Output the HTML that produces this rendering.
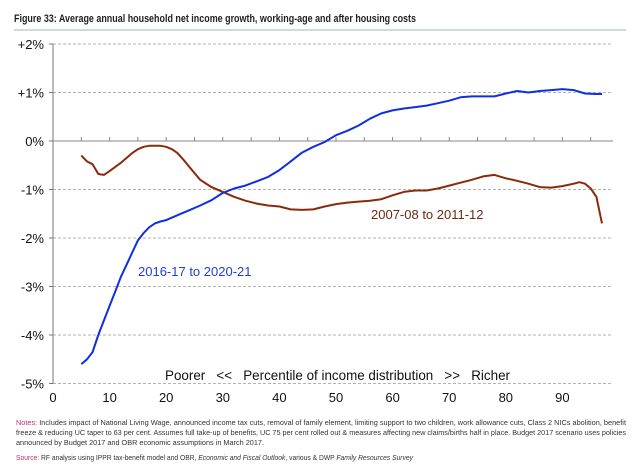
<!DOCTYPE html>
<html><head><meta charset="utf-8"><style>
html,body{margin:0;padding:0;background:#fff;}
svg{display:block;font-family:"Liberation Sans",sans-serif;}
.pre{white-space:pre;}
</style></head><body>
<svg id="chart" width="640" height="473" viewBox="0 0 640 473">
<text x="14" y="22" font-size="11" fill="#222" font-weight="bold" textLength="402" lengthAdjust="spacingAndGlyphs">Figure 33:  Average annual household net income growth, working-age and after housing costs</text>
<line x1="14" y1="30" x2="626" y2="30" stroke="#a9b3b8" stroke-width="1"/>
<g id="grid"></g><g id="axes"></g><g id="series"></g>
<text x="138" y="276" font-size="13" fill="#1f3fd0">2016-17 to 2020-21</text>
<text x="371" y="219" font-size="13" fill="#6b2a10">2007-08 to 2011-12</text>
<text class="pre" x="165" y="380" font-size="14" fill="#111" textLength="345" lengthAdjust="spacingAndGlyphs" xml:space="preserve">Poorer   &lt;&lt;   Percentile of income distribution   &gt;&gt;   Richer</text>
<g font-size="7.6" fill="#333">
<text x="16" y="425" textLength="610" lengthAdjust="spacingAndGlyphs"><tspan fill="#c03070">Notes:</tspan> Includes impact of National Living Wage, announced income tax cuts, removal of family element, limiting support to two children, work allowance cuts, Class 2 NICs abolition, benefit</text>
<text x="16" y="435" textLength="610" lengthAdjust="spacingAndGlyphs">freeze &amp; reducing UC taper to 63 per cent. Assumes full take-up of benefits, UC 75 per cent rolled out &amp; measures affecting new claims/births half in place. Budget 2017 scenario uses policies</text>
<text x="16" y="445" textLength="248" lengthAdjust="spacingAndGlyphs">announced by Budget 2017 and OBR economic assumptions in March 2017.</text>
<text x="16" y="460" textLength="397" lengthAdjust="spacingAndGlyphs"><tspan fill="#c03070">Source:</tspan> RF analysis using IPPR tax-benefit model and OBR, <tspan font-style="italic">Economic and Fiscal Outlook</tspan>, various &amp; DWP <tspan font-style="italic">Family Resources Survey</tspan></text>
</g>
</svg>
<script>
const yTicks = [2, 1, 0, -1, -2, -3, -4, -5];
const yTickLabels = ["+2%", "+1%", "0%", "-1%", "-2%", "-3%", "-4%", "-5%"];
const xTicks = [0, 10, 20, 30, 40, 50, 60, 70, 80, 90];
const bluePct = [5,6,7,8,9,10,11,12,13,14,15,16,17,18,19,20,22,24,26,28,30,32,34,36,38,40,42,44,46,48,50,52,54,56,58,60,62,64,66,68,70,72,74,76,78,80,82,84,86,88,90,92,94,96,97];
const blueVal = [-4.6,-4.5,-4.35,-4.0,-3.7,-3.4,-3.1,-2.8,-2.55,-2.3,-2.05,-1.9,-1.78,-1.7,-1.66,-1.63,-1.53,-1.43,-1.33,-1.22,-1.07,-0.98,-0.92,-0.83,-0.74,-0.6,-0.42,-0.24,-0.12,-0.02,0.12,0.21,0.32,0.46,0.57,0.63,0.67,0.70,0.73,0.78,0.83,0.9,0.92,0.92,0.92,0.98,1.03,1.0,1.03,1.05,1.07,1.05,0.98,0.97,0.97];
const redPct = [5,6,7,8,9,10,12,14,15,16,17,18,19,20,21,22,23,24,26,28,30,32,34,36,38,40,42,44,46,48,50,52,54,56,58,60,62,64,66,68,70,72,74,76,78,80,82,84,86,88,90,92,93,94,95,96,97];
const redVal = [-0.3,-0.42,-0.48,-0.68,-0.7,-0.62,-0.45,-0.25,-0.17,-0.12,-0.1,-0.1,-0.1,-0.12,-0.17,-0.25,-0.38,-0.52,-0.8,-0.95,-1.05,-1.15,-1.23,-1.29,-1.33,-1.35,-1.41,-1.42,-1.41,-1.35,-1.3,-1.27,-1.25,-1.23,-1.2,-1.12,-1.05,-1.02,-1.02,-0.98,-0.92,-0.86,-0.8,-0.73,-0.7,-0.77,-0.82,-0.88,-0.95,-0.96,-0.93,-0.88,-0.85,-0.88,-0.98,-1.15,-1.7];

const NS = "http://www.w3.org/2000/svg";
const X0 = 53, XS = 5.66, Y0 = 141, YS = 48.5;
function xScale(p){ return X0 + p * XS; }
function yScale(v){ return Y0 - v * YS; }
function mk(tag, attrs, parent){ const e = document.createElementNS(NS, tag); for (const k in attrs) e.setAttribute(k, attrs[k]); parent.appendChild(e); return e; }

const grid = document.getElementById('grid'), axes = document.getElementById('axes'), series = document.getElementById('series');
yTicks.forEach((v, i) => {
  const y = yScale(v);
  if (v !== 0) {
    const g = mk('line', {x1: X0, x2: 613, y1: y, y2: y, stroke: '#999', 'stroke-dasharray': '3,2', 'stroke-width': 0.8}, grid);
    
    
  }
  const t = mk('text', {x: 44, y: y + 5, 'text-anchor': 'end', 'font-size': 13, fill: '#111'}, axes);
  t.textContent = yTickLabels[i];
  
  
  const tk = mk('line', {x1: X0 - 4, x2: X0, y1: y, y2: y, stroke: '#777'}, axes);
  
  
});
const yAxis = mk('line', {x1: X0, x2: X0, y1: yScale(2), y2: yScale(-5), stroke: '#777'}, axes);


const zero = mk('line', {x1: X0, x2: 613, y1: yScale(0), y2: yScale(0), stroke: '#888'}, axes);


for (let p = 5; p <= 95; p += 5) {
  const tk = mk('line', {x1: xScale(p), x2: xScale(p), y1: yScale(0) - 4, y2: yScale(0), stroke: '#888'}, axes);
  
  
}
xTicks.forEach(p => {
  const t = mk('text', {x: xScale(p), y: 402, 'text-anchor': 'middle', 'font-size': 13, fill: '#111'}, axes);
  t.textContent = p;
  
  
});
function drawLine(ps, vs, color, name){
  const d = ps.map((p, i) => (i ? 'L' : 'M') + xScale(p).toFixed(1) + ',' + yScale(vs[i]).toFixed(1)).join(' ');
  const l = mk('path', {d: d, fill: 'none', stroke: color, 'stroke-width': 2, 'stroke-linejoin': 'round'}, series);
  
  
}
drawLine(redPct, redVal, '#8b2a0a', 'line-2007-08-to-2011-12');
drawLine(bluePct, blueVal, '#1030e0', 'line-2016-17-to-2020-21');
</script>
</body></html>
